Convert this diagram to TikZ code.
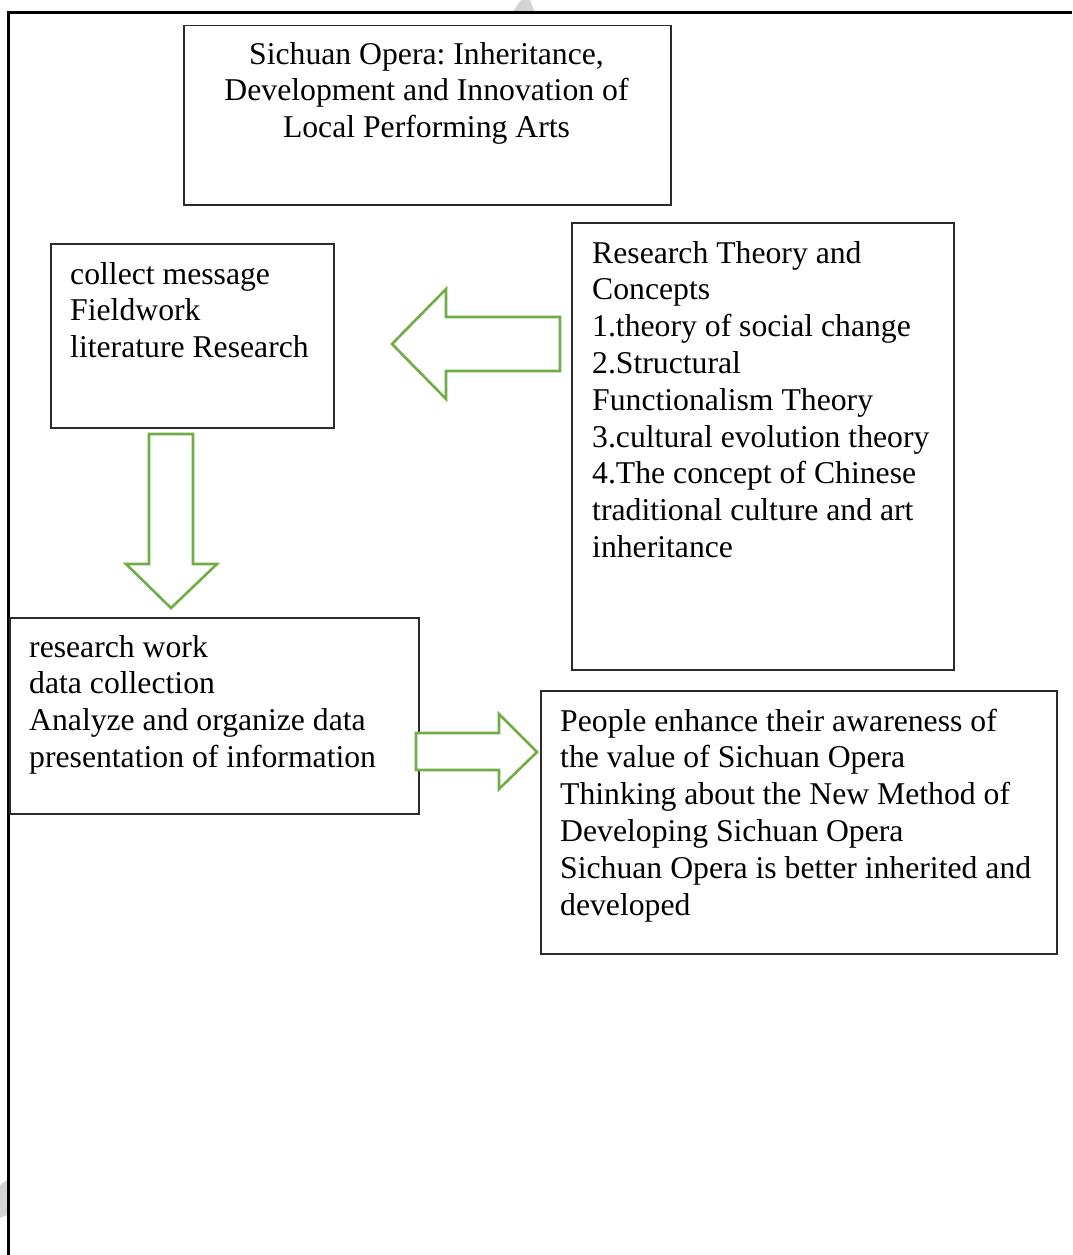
\documentclass[tikz,border=0pt]{standalone}
\usepackage{fontspec}
\setmainfont{Liberation Serif}
\frenchspacing
\definecolor{arrowgreen}{HTML}{70AD47}
\definecolor{boxline}{HTML}{2B2B2B}
\definecolor{wmgrey}{HTML}{D4D4D4}
\begin{document}
\begin{tikzpicture}[x=1pt,y=-1pt,
  box/.style={draw=boxline,line width=1.5pt,rectangle,inner sep=0pt},
  txt/.style={inner sep=0pt,anchor=base west,align=left,font=\fontsize{31.7}{36.8}\selectfont},
  ctxt/.style={inner sep=0pt,anchor=base,align=center,font=\fontsize{31.7}{36.8}\selectfont},
  blockarrow/.style={draw=arrowgreen,line width=2.6pt,fill=white,line join=miter}]
\useasboundingbox (0,0) rectangle (1072,1255);
% watermark fragments
\fill[wmgrey] (512,13) -- (521,0) -- (530,0) -- (535,13) -- cycle;
\fill[wmgrey] (0,1185) -- (7,1180) -- (7,1215) -- (0,1218) -- cycle;
% outer frame
\draw[line width=3pt] (8,1255) -- (8,13) -- (1072,13);
% boxes
\node[box,minimum width=487pt,minimum height=179pt,anchor=north west] (title) at (183,25) {};
\node[box,minimum width=283pt,minimum height=184pt,anchor=north west] (collect) at (50,243) {};
\node[box,minimum width=382pt,minimum height=447pt,anchor=north west] (theory) at (571,222) {};
\node[box,minimum width=409pt,minimum height=196pt,anchor=north west] (work) at (9,617) {};
\node[box,minimum width=516pt,minimum height=263pt,anchor=north west] (result) at (540,690) {};
% texts (anchored at the baseline of their last line)
\node[ctxt] (titletext) at (426.5,137.6) {Sichuan Opera: Inheritance,\\Development and Innovation of\\Local Performing Arts};
\node[txt] (collecttext) at (70,357.6) {collect message\\Fieldwork\\literature Research};
\node[txt] (theorytext) at (592,557.4) {Research Theory and\\Concepts\\1.theory of social change\\2.Structural\\Functionalism Theory\\3.cultural evolution theory\\4.The concept of Chinese\\traditional culture and art\\inheritance};
\node[txt] (worktext) at (29,767.4) {research work\\data collection\\Analyze and organize data\\presentation of information};
\node[txt] (resulttext) at (560,915) {People enhance their awareness of\\the value of Sichuan Opera\\Thinking about the New Method of\\Developing Sichuan Opera\\Sichuan Opera is better inherited and\\developed};
% block arrows
\draw[blockarrow] (560,317) -- (446,317) -- (446,289) -- (392,344) -- (446,399) -- (446,371) -- (560,371) -- cycle;
\draw[blockarrow] (149,434) -- (193,434) -- (193,564) -- (217,564) -- (171,608) -- (126,564) -- (149,564) -- cycle;
\draw[blockarrow] (416,733) -- (499,733) -- (499,714) -- (537,752) -- (499,789) -- (499,770) -- (416,770) -- cycle;
\end{tikzpicture}
\end{document}
